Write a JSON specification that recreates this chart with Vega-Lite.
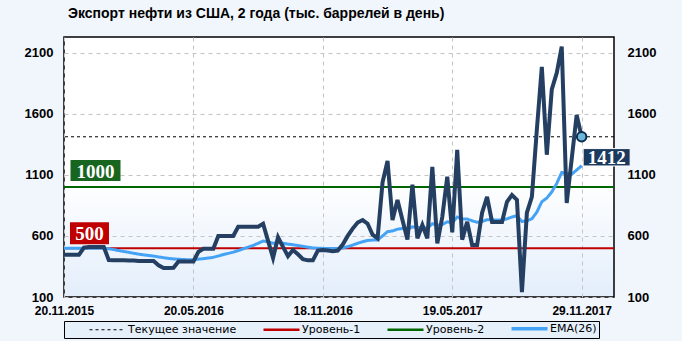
{
  "$schema": "https://vega.github.io/schema/vega-lite/v6.json",
  "width": 550,
  "height": 260,
  "autosize": {"type": "none"},
  "padding": {"left": 64, "top": 37, "right": 68, "bottom": 44},
  "background": "#f1f6fd",
  "title": {
    "text": "Экспорт нефти из США, 2 года (тыс. баррелей в день)",
    "anchor": "start",
    "frame": "group",
    "dx": 4,
    "offset": 16,
    "font": "Liberation Sans",
    "fontSize": 14,
    "fontWeight": "bold",
    "color": "#000000"
  },
  "config": {
    "view": {
      "stroke": "#000000",
      "strokeWidth": 1.5,
      "fill": {
        "gradient": "linear",
        "x1": 0, "y1": 0, "x2": 0, "y2": 1,
        "stops": [
          {"offset": 0, "color": "#ffffff"},
          {"offset": 0.55, "color": "#ffffff"},
          {"offset": 1, "color": "#e3eefb"}
        ]
      }
    },
    "legend": {
      "fillColor": "#e6f0fb",
      "strokeColor": "#000000",
      "padding": 2
    },
    "axis": {
      "ticks": false,
      "domain": false,
      "title": null,
      "labelFlush": false,
      "labelFont": "Liberation Sans",
      "labelFontWeight": "bold",
      "labelColor": "#000000",
      "gridColor": "#c4c4c4",
      "gridDash": [4, 4],
      "gridWidth": 1
    }
  },
  "datasets": {
    "main": [
      {"i": 0, "v": 445, "EMA(26)": 500}, {"i": 1, "v": 445, "EMA(26)": 500}, {"i": 2, "v": 445, "EMA(26)": 500},
      {"i": 3, "v": 445, "EMA(26)": 500}, {"i": 4, "v": 505, "EMA(26)": 500}, {"i": 5, "v": 510, "EMA(26)": 500},
      {"i": 6, "v": 510, "EMA(26)": 500}, {"i": 7, "v": 510, "EMA(26)": 500}, {"i": 8, "v": 510, "EMA(26)": 500},
      {"i": 9, "v": 402, "EMA(26)": 495}, {"i": 10, "v": 400, "EMA(26)": 488}, {"i": 11, "v": 400, "EMA(26)": 480},
      {"i": 12, "v": 400, "EMA(26)": 473}, {"i": 13, "v": 398, "EMA(26)": 466}, {"i": 14, "v": 398, "EMA(26)": 458},
      {"i": 15, "v": 395, "EMA(26)": 451}, {"i": 16, "v": 395, "EMA(26)": 445}, {"i": 17, "v": 395, "EMA(26)": 440},
      {"i": 18, "v": 395, "EMA(26)": 435}, {"i": 19, "v": 360, "EMA(26)": 428}, {"i": 20, "v": 338, "EMA(26)": 422},
      {"i": 21, "v": 338, "EMA(26)": 416}, {"i": 22, "v": 340, "EMA(26)": 412}, {"i": 23, "v": 390, "EMA(26)": 409},
      {"i": 24, "v": 390, "EMA(26)": 407}, {"i": 25, "v": 390, "EMA(26)": 405}, {"i": 26, "v": 390, "EMA(26)": 405},
      {"i": 27, "v": 470, "EMA(26)": 410}, {"i": 28, "v": 495, "EMA(26)": 414}, {"i": 29, "v": 495, "EMA(26)": 419},
      {"i": 30, "v": 495, "EMA(26)": 425}, {"i": 31, "v": 600, "EMA(26)": 436}, {"i": 32, "v": 600, "EMA(26)": 447},
      {"i": 33, "v": 600, "EMA(26)": 457}, {"i": 34, "v": 600, "EMA(26)": 467}, {"i": 35, "v": 675, "EMA(26)": 480},
      {"i": 36, "v": 675, "EMA(26)": 494}, {"i": 37, "v": 675, "EMA(26)": 508}, {"i": 38, "v": 675, "EMA(26)": 522},
      {"i": 39, "v": 675, "EMA(26)": 540}, {"i": 40, "v": 700, "EMA(26)": 558}, {"i": 41, "v": 560, "EMA(26)": 552},
      {"i": 42, "v": 420, "EMA(26)": 540}, {"i": 43, "v": 590, "EMA(26)": 545}, {"i": 44, "v": 510, "EMA(26)": 540},
      {"i": 45, "v": 435, "EMA(26)": 533}, {"i": 46, "v": 485, "EMA(26)": 528}, {"i": 47, "v": 450, "EMA(26)": 522},
      {"i": 48, "v": 410, "EMA(26)": 515}, {"i": 49, "v": 400, "EMA(26)": 508}, {"i": 50, "v": 400, "EMA(26)": 502},
      {"i": 51, "v": 480, "EMA(26)": 499}, {"i": 52, "v": 485, "EMA(26)": 498}, {"i": 53, "v": 480, "EMA(26)": 497},
      {"i": 54, "v": 475, "EMA(26)": 496}, {"i": 55, "v": 480, "EMA(26)": 497}, {"i": 56, "v": 530, "EMA(26)": 502},
      {"i": 57, "v": 600, "EMA(26)": 512}, {"i": 58, "v": 660, "EMA(26)": 525}, {"i": 59, "v": 710, "EMA(26)": 540},
      {"i": 60, "v": 730, "EMA(26)": 553}, {"i": 61, "v": 700, "EMA(26)": 563}, {"i": 62, "v": 610, "EMA(26)": 566},
      {"i": 63, "v": 580, "EMA(26)": 567}, {"i": 64, "v": 1040, "EMA(26)": 600}, {"i": 65, "v": 1215, "EMA(26)": 635},
      {"i": 66, "v": 730, "EMA(26)": 641}, {"i": 67, "v": 895, "EMA(26)": 655}, {"i": 68, "v": 730, "EMA(26)": 661},
      {"i": 69, "v": 570, "EMA(26)": 652}, {"i": 70, "v": 1020, "EMA(26)": 675}, {"i": 71, "v": 580, "EMA(26)": 668},
      {"i": 72, "v": 690, "EMA(26)": 670}, {"i": 73, "v": 580, "EMA(26)": 664}, {"i": 74, "v": 1165, "EMA(26)": 700},
      {"i": 75, "v": 540, "EMA(26)": 688}, {"i": 76, "v": 755, "EMA(26)": 693}, {"i": 77, "v": 1085, "EMA(26)": 715},
      {"i": 78, "v": 630, "EMA(26)": 708}, {"i": 79, "v": 1305, "EMA(26)": 755}, {"i": 80, "v": 570, "EMA(26)": 740},
      {"i": 81, "v": 715, "EMA(26)": 738}, {"i": 82, "v": 525, "EMA(26)": 724}, {"i": 83, "v": 525, "EMA(26)": 712},
      {"i": 84, "v": 790, "EMA(26)": 718}, {"i": 85, "v": 920, "EMA(26)": 733}, {"i": 86, "v": 715, "EMA(26)": 732},
      {"i": 87, "v": 715, "EMA(26)": 731}, {"i": 88, "v": 715, "EMA(26)": 730}, {"i": 89, "v": 880, "EMA(26)": 740},
      {"i": 90, "v": 935, "EMA(26)": 755}, {"i": 91, "v": 895, "EMA(26)": 765}, {"i": 92, "v": 140, "EMA(26)": 718},
      {"i": 93, "v": 790, "EMA(26)": 724}, {"i": 94, "v": 920, "EMA(26)": 740}, {"i": 95, "v": 1470, "EMA(26)": 795},
      {"i": 96, "v": 1985, "EMA(26)": 880}, {"i": 97, "v": 1265, "EMA(26)": 910}, {"i": 98, "v": 1800, "EMA(26)": 960},
      {"i": 99, "v": 1935, "EMA(26)": 1030}, {"i": 100, "v": 2150, "EMA(26)": 1120}, {"i": 101, "v": 870, "EMA(26)": 1110},
      {"i": 102, "v": 1230, "EMA(26)": 1105}, {"i": 103, "v": 1590, "EMA(26)": 1140}, {"i": 104, "v": 1412, "EMA(26)": 1175}
    ],
    "levels": [
      {"s": "Текущее значение", "v": 1412},
      {"s": "Уровень-1", "v": 500},
      {"s": "Уровень-2", "v": 1000}
    ]
  },
  "resolve": {"axis": {"y": "independent"}},
  "layer": [
    {
      "data": {"name": "main"},
      "mark": {"type": "line", "opacity": 0},
      "encoding": {
        "x": {
          "field": "i", "type": "quantitative",
          "scale": {"domain": [0, 110.5], "nice": false, "zero": false},
          "axis": {
            "values": [0, 26, 52, 78, 104],
            "labelExpr": "datum.value == 0 ? '20.11.2015' : datum.value == 26 ? '20.05.2016' : datum.value == 52 ? '18.11.2016' : datum.value == 78 ? '19.05.2017' : '29.11.2017'",
            "labelFontSize": 12,
            "labelPadding": 8,
            "grid": true
          }
        },
        "y": {
          "field": "v", "type": "quantitative",
          "scale": {"domain": [100, 2229], "nice": false, "zero": false},
          "axis": {
            "orient": "left",
            "values": [100, 600, 1100, 1600, 2100],
            "format": "d",
            "labelFontSize": 13,
            "labelPadding": 11,
            "grid": true
          }
        }
      }
    },
    {
      "data": {"name": "levels"},
      "mark": {"type": "rule", "strokeWidth": 2},
      "encoding": {
        "y": {
          "field": "v", "type": "quantitative",
          "scale": {"domain": [100, 2229], "nice": false, "zero": false},
          "axis": null
        },
        "color": {
          "field": "s", "type": "nominal",
          "scale": {
            "domain": ["Текущее значение", "Уровень-1", "Уровень-2", "EMA(26)"],
            "range": ["#000000", "#c00000", "#006600", "#45a3f5"]
          },
          "legend": {
            "orient": "none",
            "legendX": 0,
            "legendY": 284,
            "direction": "horizontal",
            "title": null,
            "symbolType": "M-5,0H1",
            "symbolSize": 144,
            "symbolOffset": 48,
            "columnPadding": 3,
            "labelOffset": 3,
            "labelFont": "DejaVu Sans",
            "labelFontSize": 11,
            "labelColor": "#000000",
            "fillColor": "#e6f0fb",
            "strokeColor": "#000000",
            "padding": 2,
            "encode": {
              "symbols": {
                "update": {
                  "strokeWidth": {"signal": "datum.value === 'EMA(26)' ? 3.5 : datum.value === 'Текущее значение' ? 1 : 2.5"}
                }
              }
            }
          }
        },
        "strokeDash": {
          "field": "s", "type": "nominal",
          "scale": {
            "domain": ["Текущее значение", "Уровень-1", "Уровень-2", "EMA(26)"],
            "range": [[3, 3], [1, 0], [1, 0], [1, 0]]
          }
        },
        "size": {"condition": {"test": "datum.s === 'Текущее значение'", "value": 1}, "value": 2}
      }
    },
    {
      "data": {"name": "main"},
      "transform": [{"fold": ["EMA(26)"], "as": ["s", "e"]}],
      "mark": {"type": "line", "strokeWidth": 3},
      "encoding": {
        "x": {"field": "i", "type": "quantitative", "scale": {"domain": [0, 110.5], "nice": false, "zero": false}},
        "y": {
          "field": "e", "type": "quantitative",
          "scale": {"domain": [100, 2229], "nice": false, "zero": false},
          "axis": {
            "orient": "right",
            "values": [100, 600, 1100, 1600, 2100],
            "format": "d",
            "labelFontSize": 13,
            "labelPadding": 13,
            "grid": false
          }
        },
        "color": {"field": "s", "type": "nominal"},
        "strokeDash": {"field": "s", "type": "nominal"}
      }
    },
    {
      "data": {"name": "main"},
      "mark": {"type": "line", "color": "#243f62", "strokeWidth": 4},
      "encoding": {
        "x": {"field": "i", "type": "quantitative", "scale": {"domain": [0, 110.5], "nice": false, "zero": false}},
        "y": {"field": "v", "type": "quantitative", "scale": {"domain": [100, 2229], "nice": false, "zero": false}, "axis": null}
      }
    },
    {
      "data": {"name": "main"},
      "transform": [{"filter": "datum.i == 104"}],
      "mark": {"type": "point", "filled": true, "size": 90, "fill": "#6cb8d6", "stroke": "#0d2a52", "strokeWidth": 2, "opacity": 1},
      "encoding": {
        "x": {"field": "i", "type": "quantitative", "scale": {"domain": [0, 110.5], "nice": false, "zero": false}},
        "y": {"field": "v", "type": "quantitative", "scale": {"domain": [100, 2229], "nice": false, "zero": false}, "axis": null}
      }
    },
    {
      "data": {"name": "main"},
      "transform": [{"filter": "datum.i == 104"}],
      "mark": {"type": "point", "filled": true, "shape": "M-1,-0.37H1V0.37H-1Z", "size": 2209, "fill": "#1c3a5e", "stroke": "#ffffff", "strokeWidth": 1, "opacity": 1, "xOffset": 25, "yOffset": 20.5},
      "encoding": {
        "x": {"field": "i", "type": "quantitative", "scale": {"domain": [0, 110.5], "nice": false, "zero": false}},
        "y": {"field": "v", "type": "quantitative", "scale": {"domain": [100, 2229], "nice": false, "zero": false}, "axis": null}
      }
    },
    {
      "data": {"name": "main"},
      "transform": [{"filter": "datum.i == 104"}],
      "mark": {"type": "text", "font": "Liberation Serif", "fontWeight": "bold", "fontSize": 19, "color": "#ffffff", "align": "center", "baseline": "middle", "xOffset": 25, "yOffset": 21.5},
      "encoding": {
        "x": {"field": "i", "type": "quantitative", "scale": {"domain": [0, 110.5], "nice": false, "zero": false}},
        "y": {"field": "v", "type": "quantitative", "scale": {"domain": [100, 2229], "nice": false, "zero": false}, "axis": null},
        "text": {"field": "v", "type": "quantitative"}
      }
    },
    {
      "data": {"name": "levels"},
      "transform": [{"filter": "datum.s == 'Уровень-1'"}],
      "mark": {"type": "point", "filled": true, "shape": "M-1,-0.564H1V0.564H-1Z", "size": 1521, "fill": "#c00000", "strokeWidth": 0, "opacity": 1, "yOffset": -15},
      "encoding": {
        "x": {"datum": 5.12, "type": "quantitative", "scale": {"domain": [0, 110.5], "nice": false, "zero": false}},
        "y": {"field": "v", "type": "quantitative", "scale": {"domain": [100, 2229], "nice": false, "zero": false}, "axis": null}
      }
    },
    {
      "data": {"name": "levels"},
      "transform": [{"filter": "datum.s == 'Уровень-1'"}],
      "mark": {"type": "text", "font": "Liberation Serif", "fontWeight": "bold", "fontSize": 19, "color": "#ffffff", "align": "center", "baseline": "middle", "yOffset": -14},
      "encoding": {
        "x": {"datum": 5.12, "type": "quantitative", "scale": {"domain": [0, 110.5], "nice": false, "zero": false}},
        "y": {"field": "v", "type": "quantitative", "scale": {"domain": [100, 2229], "nice": false, "zero": false}, "axis": null},
        "text": {"field": "v", "type": "quantitative"}
      }
    },
    {
      "data": {"name": "levels"},
      "transform": [{"filter": "datum.s == 'Уровень-2'"}],
      "mark": {"type": "point", "filled": true, "shape": "M-1,-0.42H1V0.42H-1Z", "size": 2500, "fill": "#18651f", "strokeWidth": 0, "opacity": 1, "yOffset": -16.5},
      "encoding": {
        "x": {"datum": 6.33, "type": "quantitative", "scale": {"domain": [0, 110.5], "nice": false, "zero": false}},
        "y": {"field": "v", "type": "quantitative", "scale": {"domain": [100, 2229], "nice": false, "zero": false}, "axis": null}
      }
    },
    {
      "data": {"name": "levels"},
      "transform": [{"filter": "datum.s == 'Уровень-2'"}],
      "mark": {"type": "text", "font": "Liberation Serif", "fontWeight": "bold", "fontSize": 19, "color": "#ffffff", "align": "center", "baseline": "middle", "yOffset": -15.5},
      "encoding": {
        "x": {"datum": 6.33, "type": "quantitative", "scale": {"domain": [0, 110.5], "nice": false, "zero": false}},
        "y": {"field": "v", "type": "quantitative", "scale": {"domain": [100, 2229], "nice": false, "zero": false}, "axis": null},
        "text": {"field": "v", "type": "quantitative"}
      }
    }
  ]
}
